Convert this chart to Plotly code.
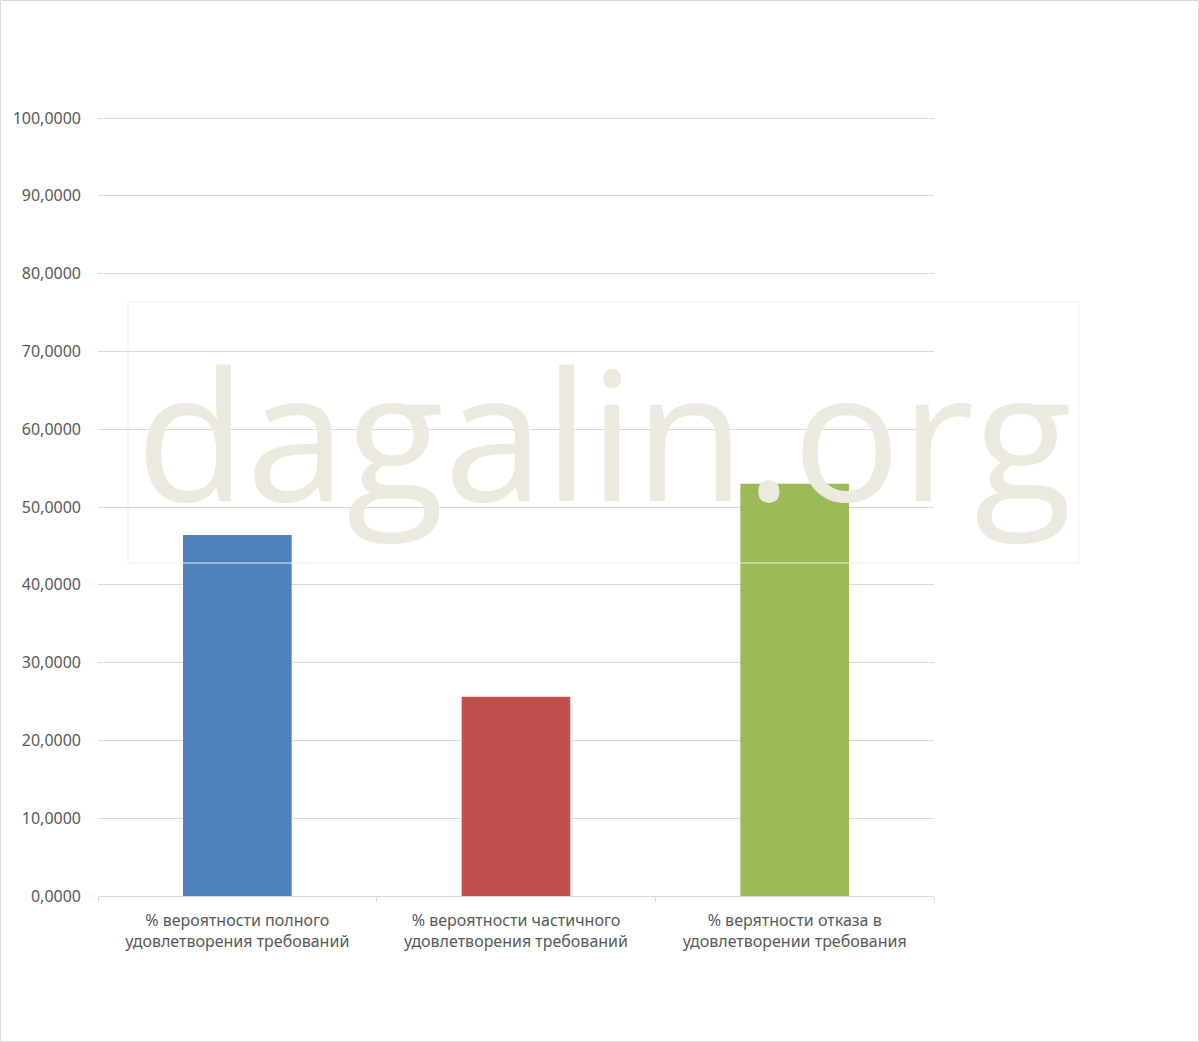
import plotly.graph_objects as go

categories = [
    "% вероятности полного<br>удовлетворения требований",
    "% вероятности частичного<br>удовлетворения требований",
    "% верятности отказа в<br>удовлетворении требования",
]
values = [46.4, 25.6, 53.0]
colors = ["#4f81bd", "#c0504d", "#9bbb59"]
y_ticks = [0, 10, 20, 30, 40, 50, 60, 70, 80, 90, 100]
watermark = "dagalin.org"

W, H = 1199, 1042
L, R, T, B = 98, 934, 118, 896


def px(x):
    return (x - L) / (R - L)


def py(y):
    return (B - y) / (B - T)


fig = go.Figure()
fig.add_trace(go.Bar(x=categories, y=values, marker=dict(color=colors, line=dict(width=0)),
                     width=0.39, hoverinfo="skip"))

fig.update_layout(
    width=W, height=H,
    margin=dict(l=L, r=W - R, t=T, b=H - B, pad=0),
    paper_bgcolor="white", plot_bgcolor="white",
    separators=", ",
    showlegend=False,
    font=dict(family="Noto Sans", size=16, color="#595959"),
    bargap=0.61,
)
fig.update_yaxes(range=[0, 100], tickvals=y_ticks, tickformat=".4f",
                 showgrid=True, gridcolor="#d9d9d9", gridwidth=1,
                 showline=False, zeroline=False, ticks="",
                 ticklabelstandoff=16,
                 tickfont=dict(family="Noto Sans", size=16, color="#595959"))
fig.update_xaxes(showline=True, linecolor="#d9d9d9", linewidth=1,
                 ticks="outside", tickson="boundaries", ticklen=5, tickcolor="#d9d9d9",
                 ticklabelstandoff=10,
                 tickfont=dict(family="Noto Sans", size=16, color="#595959"))

# top gridline (plotly drops the gridline at the range edge); half-pixel inset so it is crisp
fig.add_shape(type="line", xref="paper", yref="paper", x0=0, x1=1,
              y0=py(T + 0.5), y1=py(T + 0.5),
              line=dict(color="#d9d9d9", width=1), layer="below")

# watermark box
fig.add_shape(type="rect", xref="paper", yref="paper",
              x0=px(128), x1=px(1079), y0=py(563), y1=py(302),
              line=dict(color="#efeee6", width=1), fillcolor="rgba(0,0,0,0)", layer="above")
# outer border
fig.add_shape(type="rect", xref="paper", yref="paper",
              x0=px(0.5), x1=px(1198.5), y0=py(1041.5), y1=py(0.5),
              line=dict(color="#d9d9d9", width=1), fillcolor="rgba(0,0,0,0)", layer="above")

fig.add_annotation(text=watermark, xref="paper", yref="paper",
                   x=px(604), y=py(431), xanchor="center", yanchor="middle",
                   showarrow=False,
                   font=dict(family="Open Sans", size=180, color="#ece9df"))

fig.write_html("out.html", config={"displayModeBar": False},
               post_script="document.body.style.margin='0';document.body.style.padding='0';")
